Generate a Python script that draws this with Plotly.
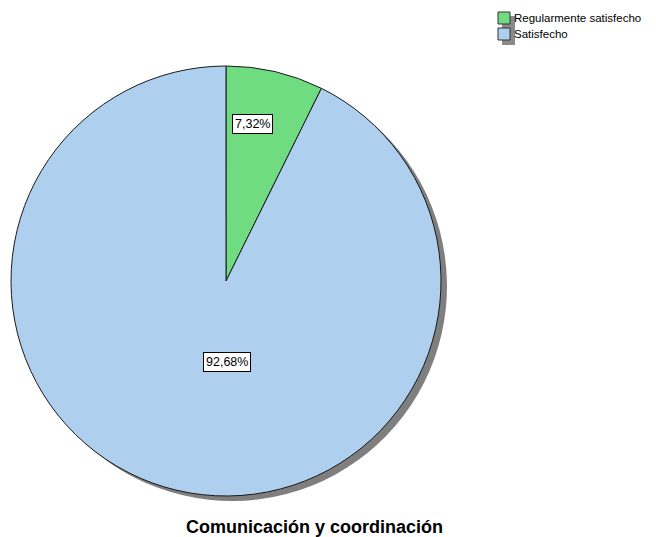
import math
import plotly.graph_objects as go

# Category shares (percent)
categories = ["Regularmente satisfecho", "Satisfecho"]
shares = [7.32, 92.68]
slice_colors = ["#70dc82", "#aecfee"]
label_texts = ["7,32%", "92,68%"]
chart_title = "Comunicación y coordinación"

W, H = 656, 537
cx, cy, R = 226, 281, 215  # pie centre and radius in pixels
shadow_dx, shadow_dy = 6, 5
FONT = "Liberation Sans, Arial, sans-serif"


def px_dom(x0, x1, y0, y1):
    return dict(x=[x0 / W, x1 / W], y=[1 - y1 / H, 1 - y0 / H])


def px(x, y):
    return x / W, 1 - y / H


fig = go.Figure()

# Drop shadow underneath the pie
fig.add_trace(go.Pie(
    labels=categories, values=shares, sort=False, direction="clockwise",
    marker=dict(colors=["#7f7f7f", "#7f7f7f"], line=dict(width=0)),
    textinfo="none", hoverinfo="skip", showlegend=False,
    domain=px_dom(cx - R + shadow_dx, cx + R + shadow_dx,
                  cy - R + shadow_dy, cy + R + shadow_dy),
))

fig.add_trace(go.Pie(
    labels=categories, values=shares, sort=False, direction="clockwise",
    marker=dict(colors=slice_colors, line=dict(color="#1a1a1a", width=1)),
    textinfo="none", showlegend=False,
    domain=px_dom(cx - R, cx + R, cy - R, cy + R),
))

# Boxed percentage labels
total = sum(shares)
first_mid = (shares[0] / 2) / total * 2 * math.pi
r_small = 0.75 * R
label_pos = [
    (cx + r_small * math.sin(first_mid) - 10, cy - r_small * math.cos(first_mid)),
    (cx + 1, cy + 81),
]
for (lx, ly), txt in zip(label_pos, label_texts):
    ax, ay = px(lx, ly)
    fig.add_annotation(
        x=ax, y=ay, xref="paper", yref="paper", text=txt, showarrow=False,
        xanchor="center", yanchor="middle",
        font=dict(family=FONT, size=12.5, color="#000000"),
        bgcolor="#ffffff", bordercolor="#000000", borderwidth=1, borderpad=2,
    )

# Title below the pie
tx, ty = px(314, 527)
fig.add_annotation(
    x=tx, y=ty, xref="paper", yref="paper",
    text="<b>" + chart_title + "</b>", showarrow=False,
    xanchor="center", yanchor="middle",
    font=dict(family=FONT, size=18, color="#000000"),
)

# Legend: shadow block, swatches and labels
sx0, sy0 = px(502, 45)
sx1, sy1 = px(515, 16)
fig.add_shape(type="rect", xref="paper", yref="paper",
              x0=sx0, x1=sx1, y0=sy0, y1=sy1,
              fillcolor="#8a8a8a", line=dict(width=0))
row_y = [18, 34]
for yy, name, col in zip(row_y, categories, slice_colors):
    x0, y0 = px(498, yy + 6)
    x1, y1 = px(510, yy - 6)
    fig.add_shape(type="rect", xref="paper", yref="paper",
                  x0=x0, x1=x1, y0=y0, y1=y1,
                  fillcolor=col, line=dict(color="#333333", width=1))
    ax, ay = px(512, yy)
    fig.add_annotation(
        x=ax, y=ay, xref="paper", yref="paper", text=name, showarrow=False,
        xanchor="left", yanchor="middle",
        font=dict(family=FONT, size=11.5, color="#000000"),
    )

fig.update_layout(
    width=W, height=H,
    margin=dict(l=0, r=0, t=0, b=0),
    paper_bgcolor="#ffffff", plot_bgcolor="#ffffff",
    showlegend=False,
)

fig.write_html("out.html")
